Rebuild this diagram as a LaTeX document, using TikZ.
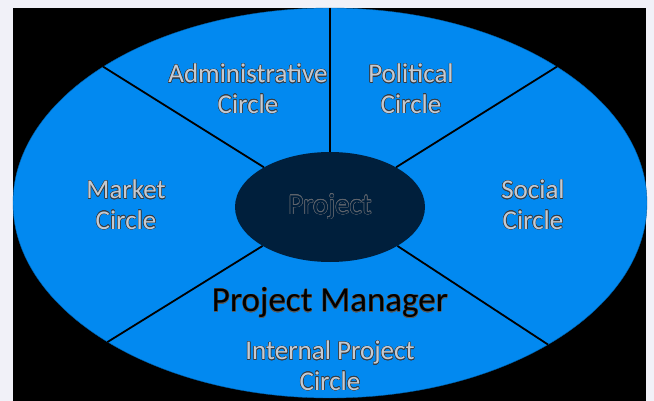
\documentclass[tikz,border=0pt]{standalone}
\usepackage{fontspec}
\setmainfont{Carlito}
\usepackage[copies]{contour}
\usetikzlibrary{shapes.geometric}
\definecolor{ringblue}{RGB}{2,137,240}
\definecolor{corenavy}{RGB}{0,31,60}
\definecolor{labelfill}{RGB}{196,202,210}
\definecolor{labeledge}{RGB}{55,60,66}
\definecolor{coreedge}{RGB}{95,100,108}
\definecolor{paper}{RGB}{241,241,248}
\contournumber{16}
\newcommand{\ghost}[1]{\contourlength{0.45pt}\contour{labeledge}{\textcolor{labelfill}{#1}}}
\tikzset{
  ringlabel/.style={align=center, font=\fontsize{27}{30.5}\selectfont, inner sep=0pt},
  spoke/.style={draw=black, line width=1.8pt}
}
\begin{document}
\begin{tikzpicture}[x=1pt,y=-1pt]
\useasboundingbox (0,0) rectangle (654,401);
\fill[paper] (0,0) rectangle (654,401);
\fill[black] (13,8) rectangle (646,401);
% outer ring and project core
\node (outer) [ellipse, fill=ringblue, draw=ringblue!70!black, line width=0.4pt,
  minimum width=634pt, minimum height=390pt, inner sep=0pt] at (330,203) {};
\node (core) [ellipse, fill=corenavy, minimum width=190pt, minimum height=110pt,
  inner sep=0pt, font=\fontsize{29}{30}\selectfont] at (330,207)
  {\contourlength{0.5pt}\contour{coreedge}{\textcolor{corenavy}{Project}}};
% spokes dividing the ring into circles
\draw[spoke] (core.north) -- (outer.north);
\draw[spoke] (core.149) -- (outer.149);
\draw[spoke] (core.31) -- (outer.31);
\draw[spoke] (core.210) -- (outer.212);
\draw[spoke] (core.330) -- (outer.327.5);
% circle labels
\node (admin) [ringlabel] at (248,89) {\ghost{Administrative}\\\ghost{Circle}};
\node (polit) [ringlabel] at (411,89) {\ghost{Political}\\\ghost{Circle}};
\node (market) [ringlabel] at (126,205) {\ghost{Market}\\\ghost{Circle}};
\node (social) [ringlabel] at (533,205) {\ghost{Social}\\\ghost{Circle}};
\node (pm) [font=\fontsize{35}{38}\selectfont, inner sep=0pt] at (330,303)
  {\contourlength{0.3pt}\contour{black!65}{\textcolor{black}{Project Manager}}};
\node (internal) [ringlabel] at (330,366) {\ghost{Internal Project}\\\ghost{Circle}};
\end{tikzpicture}
\end{document}
